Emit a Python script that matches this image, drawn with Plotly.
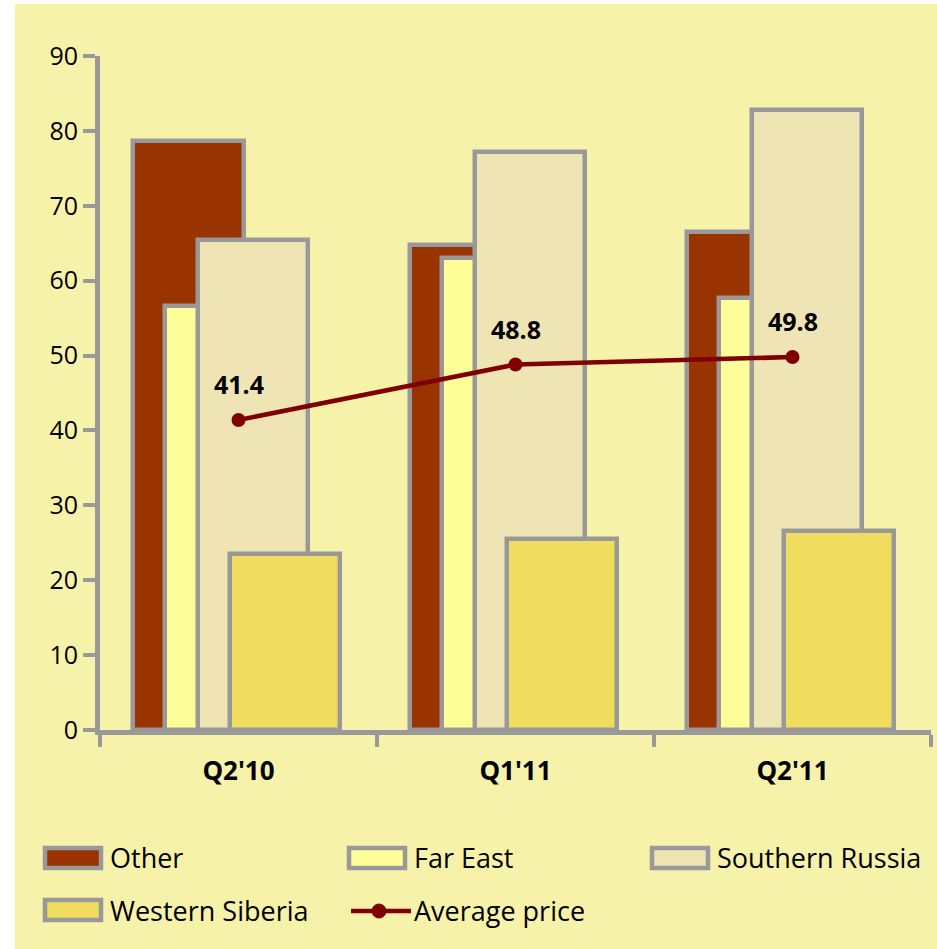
import plotly.graph_objects as go

# Quarterly data
quarters = ["Q2'10", "Q1'11", "Q2'11"]
other = [78.6, 64.8, 66.5]
far_east = [56.6, 63.0, 57.7]
southern_russia = [65.4, 77.2, 82.8]
western_siberia = [23.5, 25.5, 26.6]
average_price = [41.4, 48.8, 49.8]

series_names = ["Other", "Far East", "Southern Russia", "Western Siberia"]
series_values = [other, far_east, southern_russia, western_siberia]
series_colors = ["#993300", "#FFFF99", "#EFE4B3", "#F0DC5E"]
price_name = "Average price"
price_color = "#800000"

BAR_WIDTH = 0.40
START = -0.38
STEP = 0.116
EDGE = "#999999"
BG = "#F7F2AA"
FONT = "Open Sans"

W, H = 937, 949
ML, MR, MT, MB = 100, 6, 56, 219
PW, PH = W - ML - MR, H - MT - MB


def px(xp):
    """Horizontal pixel -> paper fraction."""
    return (xp - ML) / PW


def py(yp):
    """Vertical pixel (from top) -> paper fraction."""
    return (H - MB - yp) / PH


fig = go.Figure()
for i, (name, vals, color) in enumerate(zip(series_names, series_values, series_colors)):
    fig.add_trace(go.Bar(
        x=quarters, y=vals, name=name,
        width=BAR_WIDTH, offset=START + i * STEP,
        marker=dict(color=color, line=dict(color=EDGE, width=4.5)),
        showlegend=False,
    ))

fig.add_trace(go.Scatter(
    x=quarters, y=average_price, name=price_name,
    mode="lines+markers",
    line=dict(color=price_color, width=4.5),
    marker=dict(color=price_color, size=14),
    showlegend=False,
))

annotations = []
for q, v in zip(quarters, average_price):
    annotations.append(dict(
        x=q, y=v, xref="x", yref="y", text=f"{v:.1f}", showarrow=False,
        yshift=36, font=dict(family=FONT, size=25, color="black", weight="bold"),
    ))

shapes = [dict(type="rect", xref="paper", yref="paper",
               x0=px(15), x1=px(W + 5), y0=py(4), y1=py(H + 5),
               fillcolor=BG, line=dict(width=0), layer="below")]

# Legend: three columns, two rows
col_x = [45, 349, 652]
row_y = [858, 910]
entries = [(n, c) for n, c in zip(series_names, series_colors)] + [(price_name, None)]
for k, (name, color) in enumerate(entries):
    cx = col_x[k % 3]
    cy = row_y[k // 3]
    if color is not None:
        shapes.append(dict(type="rect", xref="paper", yref="paper",
                           x0=px(cx), x1=px(cx + 56), y0=py(cy - 10), y1=py(cy + 10),
                           fillcolor=color, line=dict(color=EDGE, width=4.5)))
    else:
        shapes.append(dict(type="line", xref="paper", yref="paper",
                           x0=px(cx + 2), x1=px(cx + 62), y0=py(cy + 1), y1=py(cy + 1),
                           line=dict(color=price_color, width=4.5)))
        shapes.append(dict(type="circle", xref="paper", yref="paper",
                           x0=px(cx + 23), x1=px(cx + 37), y0=py(cy - 6), y1=py(cy + 8),
                           fillcolor=price_color, line=dict(color=price_color, width=1)))
    annotations.append(dict(
        x=px(cx + 63), y=py(cy), xref="paper", yref="paper", text=name,
        showarrow=False, xanchor="left", yanchor="middle",
        font=dict(family=FONT, size=27, color="black"),
    ))

fig.update_layout(
    width=W, height=H,
    margin=dict(l=ML, r=MR, t=MT, b=MB),
    paper_bgcolor="white",
    plot_bgcolor=BG,
    barmode="overlay",
    bargap=0,
    showlegend=False,
    font=dict(family=FONT, color="black"),
    shapes=shapes,
    annotations=annotations,
    xaxis=dict(
        type="category",
        showline=True, linecolor=EDGE, linewidth=5,
        ticks="outside", tickson="boundaries", ticklen=12,
        tickwidth=4, tickcolor=EDGE,
        tickfont=dict(family=FONT, size=26, color="black", weight="bold"),
        ticklabelstandoff=14,
        showgrid=False, zeroline=False,
        range=[-0.5, 2.5],
    ),
    yaxis=dict(
        range=[0, 90], dtick=10,
        showline=True, linecolor=EDGE, linewidth=5,
        ticks="outside", ticklen=12, tickwidth=4, tickcolor=EDGE,
        tickfont=dict(family=FONT, size=25, color="black"),
        showgrid=False, zeroline=False,
    ),
)

fig.write_html("out.html")
